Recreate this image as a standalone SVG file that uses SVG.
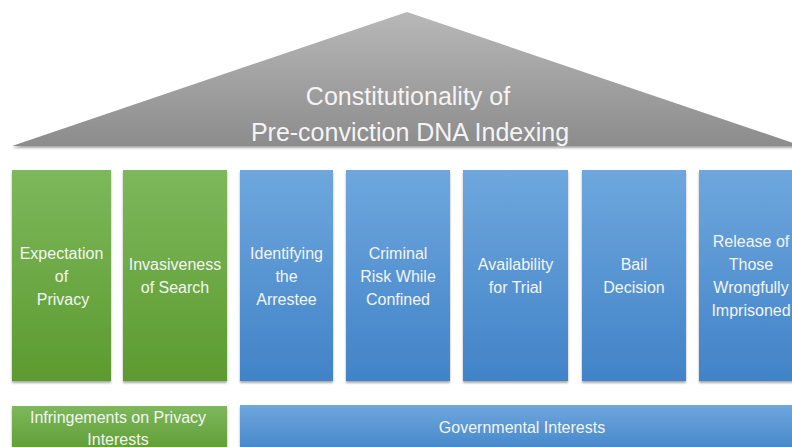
<svg xmlns="http://www.w3.org/2000/svg" width="792" height="447" viewBox="0 0 792 447">
<style>
  .t { font-family: "Liberation Sans", Arial, sans-serif; fill: #f4f4f4; text-anchor: middle; }
  .col { font-size: 16px; }
  .roof { font-size: 25px; }
  .g { fill: url(#gGreen); filter: url(#sh); }
  .b { fill: url(#gBlue); filter: url(#sh); }
</style>
<defs>
  <linearGradient id="gGreen" x1="0" y1="0" x2="0" y2="1">
    <stop offset="0" stop-color="#7db85c"/>
    <stop offset="1" stop-color="#5c9b2f"/>
  </linearGradient>
  <linearGradient id="gBlue" x1="0" y1="0" x2="0" y2="1">
    <stop offset="0" stop-color="#6ea7dd"/>
    <stop offset="1" stop-color="#4183c8"/>
  </linearGradient>
  <linearGradient id="gGray" x1="0" y1="0" x2="0" y2="1">
    <stop offset="0" stop-color="#b8b8b8"/>
    <stop offset="1" stop-color="#8c8c8c"/>
  </linearGradient>
  <filter id="sh" x="-5%" y="-5%" width="110%" height="110%">
    <feGaussianBlur in="SourceAlpha" stdDeviation="1.2"/>
    <feOffset dx="0" dy="1.5" result="o"/>
    <feComponentTransfer><feFuncA type="linear" slope="0.35"/></feComponentTransfer>
    <feMerge><feMergeNode/><feMergeNode in="SourceGraphic"/></feMerge>
  </filter>
</defs>
<rect width="792" height="447" fill="#ffffff"/>

<g id="roof">
  <polygon points="407,12 12,146 802,146" fill="url(#gGray)" filter="url(#sh)"/>
  <text class="t roof" x="408" y="105">Constitutionality of</text>
  <text class="t roof" x="410" y="141">Pre-conviction DNA Indexing</text>
</g>

<g id="col-expectation">
  <rect class="g" x="12" y="170" width="99" height="211"/>
  <text class="t col" x="61.5" y="259">Expectation</text>
  <text class="t col" x="61.5" y="282">of</text>
  <text class="t col" x="63" y="305">Privacy</text>
</g>
<g id="col-invasiveness">
  <rect class="g" x="123" y="170" width="104" height="211"/>
  <text class="t col" x="175" y="270">Invasiveness</text>
  <text class="t col" x="175" y="293">of Search</text>
</g>
<g id="col-identifying">
  <rect class="b" x="240" y="170" width="93" height="211"/>
  <text class="t col" x="286.5" y="259">Identifying</text>
  <text class="t col" x="286.5" y="282">the</text>
  <text class="t col" x="286.5" y="305">Arrestee</text>
</g>
<g id="col-criminal">
  <rect class="b" x="346" y="170" width="104" height="211"/>
  <text class="t col" x="398" y="259">Criminal</text>
  <text class="t col" x="398" y="282">Risk While</text>
  <text class="t col" x="398" y="305">Confined</text>
</g>
<g id="col-availability">
  <rect class="b" x="463" y="170" width="105" height="211"/>
  <text class="t col" x="515.5" y="270">Availability</text>
  <text class="t col" x="515.5" y="293">for Trial</text>
</g>
<g id="col-bail">
  <rect class="b" x="582" y="170" width="104" height="211"/>
  <text class="t col" x="634" y="270">Bail</text>
  <text class="t col" x="634" y="293">Decision</text>
</g>
<g id="col-release">
  <rect class="b" x="699" y="170" width="104" height="211"/>
  <text class="t col" x="751" y="247">Release of</text>
  <text class="t col" x="751" y="270">Those</text>
  <text class="t col" x="751" y="293">Wrongfully</text>
  <text class="t col" x="751" y="316">Imprisoned</text>
</g>

<g id="base-privacy">
  <rect class="g" x="12" y="406" width="215" height="50"/>
  <text class="t col" x="118" y="423">Infringements on Privacy</text>
  <text class="t col" x="118" y="445">Interests</text>
</g>
<g id="base-governmental">
  <rect class="b" x="240" y="405" width="563" height="50"/>
  <text class="t col" x="522" y="433">Governmental Interests</text>
</g>

<g id="connectors"></g>
</svg>
